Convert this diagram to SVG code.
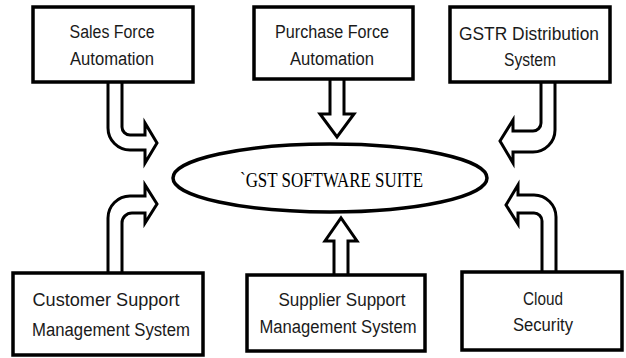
<svg xmlns="http://www.w3.org/2000/svg" width="626" height="358" viewBox="0 0 626 358">
  <style>
    .box { fill: #ffffff; stroke: #000000; stroke-width: 3.5; }
    .lbl { font-family: "Liberation Sans", Arial, sans-serif; font-size: 18px; fill: #1a1a1a; text-anchor: middle; }
    .arrow { fill: #ffffff; stroke: #000000; stroke-width: 3; stroke-linejoin: miter; }
    .hub { fill: #ffffff; stroke: #000000; stroke-width: 3.5; }
    .hubtxt { font-family: "Liberation Serif", "Times New Roman", serif; font-size: 21px; fill: #000000; }
  </style>
  <rect width="626" height="358" fill="#ffffff"/>

  <!-- central hub -->
  <g id="gst-suite">
    <ellipse class="hub" cx="330" cy="178" rx="157" ry="34"/>
    <text class="hubtxt" x="240" y="187" textLength="183" lengthAdjust="spacingAndGlyphs">`GST SOFTWARE SUITE</text>
  </g>

  <!-- connectors: outlined block arrows -->
  <g id="connectors">
    <path class="arrow" d="M108,82 V128 A22,22 0 0 0 130,150 H145 V163 L157,143 L145,123 V135 H130 A8,8 0 0 1 122,127 V82"/>
    <path class="arrow" d="M330,79 V114 H320 L337,137 L354,114 H344 V79"/>
    <path class="arrow" d="M555,82 V130 A22,22 0 0 1 533,152 H513 V163 L500,141 L513,120 V131 H533 A8,8 0 0 0 541,123 V82"/>
    <path class="arrow" d="M108,273 V218 A22,22 0 0 1 130,196 H145 V185 L157,204 L145,223 V213 H132 A10,10 0 0 0 122,223 V273"/>
    <path class="arrow" d="M334,275 V241 H325 L341,218 L357,241 H348 V275"/>
    <path class="arrow" d="M556,272 V217 A22,22 0 0 0 534,195 H518 V185 L506,205 L518,224 V213 H534 A8,8 0 0 1 542,221 V272"/>
  </g>

  <!-- source modules -->
  <g id="sales-force">
    <rect class="box" x="33" y="7" width="160" height="75"/>
    <text class="lbl" x="112" y="38" textLength="85" lengthAdjust="spacingAndGlyphs">Sales Force</text>
    <text class="lbl" x="112" y="65" textLength="84" lengthAdjust="spacingAndGlyphs">Automation</text>
  </g>
  <g id="purchase-force">
    <rect class="box" x="254" y="7" width="159" height="72"/>
    <text class="lbl" x="332" y="38" textLength="114" lengthAdjust="spacingAndGlyphs">Purchase Force</text>
    <text class="lbl" x="332" y="65" textLength="84" lengthAdjust="spacingAndGlyphs">Automation</text>
  </g>
  <g id="gstr-distribution">
    <rect class="box" x="450" y="7" width="160" height="75"/>
    <text class="lbl" x="529" y="40" textLength="140" lengthAdjust="spacingAndGlyphs">GSTR Distribution</text>
    <text class="lbl" x="530" y="66" textLength="52" lengthAdjust="spacingAndGlyphs">System</text>
  </g>
  <g id="customer-support">
    <rect class="box" x="13" y="273" width="190" height="82"/>
    <text class="lbl" x="106" y="306" textLength="147" lengthAdjust="spacingAndGlyphs">Customer Support</text>
    <text class="lbl" x="111" y="336" textLength="158" lengthAdjust="spacingAndGlyphs">Management System</text>
  </g>
  <g id="supplier-support">
    <rect class="box" x="247" y="275" width="178" height="76"/>
    <text class="lbl" x="342" y="306" textLength="127" lengthAdjust="spacingAndGlyphs">Supplier  Support</text>
    <text class="lbl" x="338" y="333" textLength="157" lengthAdjust="spacingAndGlyphs">Management System</text>
  </g>
  <g id="cloud-security">
    <rect class="box" x="462" y="272" width="160" height="78"/>
    <text class="lbl" x="543" y="305" textLength="40" lengthAdjust="spacingAndGlyphs">Cloud</text>
    <text class="lbl" x="543" y="331" textLength="60" lengthAdjust="spacingAndGlyphs">Security</text>
  </g>
</svg>
